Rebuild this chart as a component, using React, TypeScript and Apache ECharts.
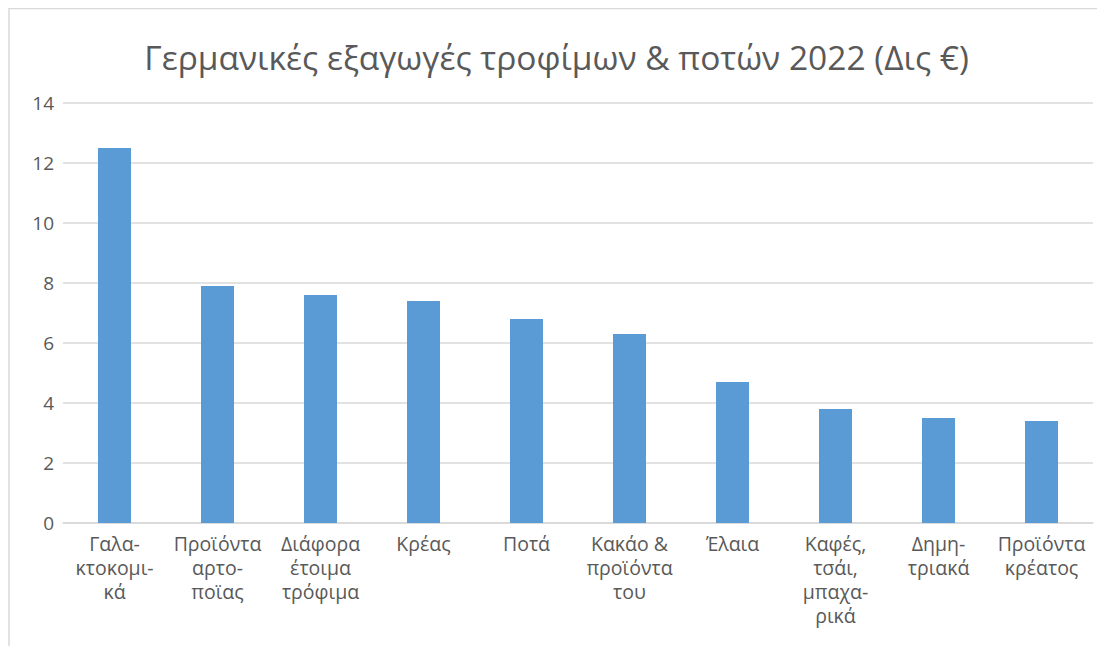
import React, { useEffect, useRef } from "react";
import * as echarts from "echarts";

const categories = [
  "Γαλα-\nκτοκομι-\nκά",
  "Προϊόντα\nαρτο-\nποϊας",
  "Διάφορα\nέτοιμα\nτρόφιμα",
  "Κρέας",
  "Ποτά",
  "Κακάο &\nπροϊόντα\nτου",
  "Έλαια",
  "Καφές,\nτσάι,\nμπαχα-\nρικά",
  "Δημη-\nτριακά",
  "Προϊόντα\nκρέατος",
];
const values = [12.5, 7.9, 7.6, 7.4, 6.8, 6.3, 4.7, 3.8, 3.5, 3.4];
const titleText = "Γερμανικές εξαγωγές τροφίμων & ποτών 2022 (Δις €)";

export default function App() {
  const ref = useRef<HTMLDivElement>(null);
  useEffect(() => {
    document.documentElement.style.overflow = "hidden";
    document.body.style.overflow = "hidden";
    const chart = echarts.init(ref.current!, null, { renderer: "svg" });
    const font = "'Open Sans', 'Noto Sans', sans-serif";
    chart.setOption({
      animation: false,
      title: {
        text: titleText,
        left: "center",
        top: 27,
        textStyle: { fontFamily: font, fontSize: 33.5, fontWeight: "normal", color: "#595959" },
      },
      graphic: [
        { type: "line", shape: { x1: 1, y1: 0, x2: 1, y2: 640 }, style: { stroke: "#d9d9d9", lineWidth: 1.5 } },
        { type: "line", shape: { x1: 1, y1: 0.5, x2: 1100, y2: 0.5 }, style: { stroke: "#d9d9d9", lineWidth: 1.5 } },
      ],
      grid: { left: 55, top: 95, width: 1030, height: 420 },
      xAxis: {
        type: "category",
        data: categories,
        axisLine: { lineStyle: { color: "#d9d9d9", width: 1.5 } },
        axisTick: { show: false },
        axisLabel: {
          interval: 0,
          margin: 8,
          fontFamily: font,
          fontSize: 19.5,
          lineHeight: 24,
          color: "#595959",
          align: "center",
        },
      },
      yAxis: {
        type: "value",
        min: 0,
        max: 14,
        interval: 2,
        axisLine: { show: false },
        axisTick: { show: false },
        splitLine: { lineStyle: { color: "#d9d9d9", width: 1.5 } },
        axisLabel: { margin: 9, fontFamily: font, fontSize: 19, color: "#595959" },
      },
      series: [
        {
          type: "bar",
          data: values,
          barWidth: 33,
          itemStyle: { color: "#5b9bd5" },
        },
      ],
    });
    return () => chart.dispose();
  }, []);
  return <div ref={ref} style={{ width: 1097, height: 638 }} />;
}
